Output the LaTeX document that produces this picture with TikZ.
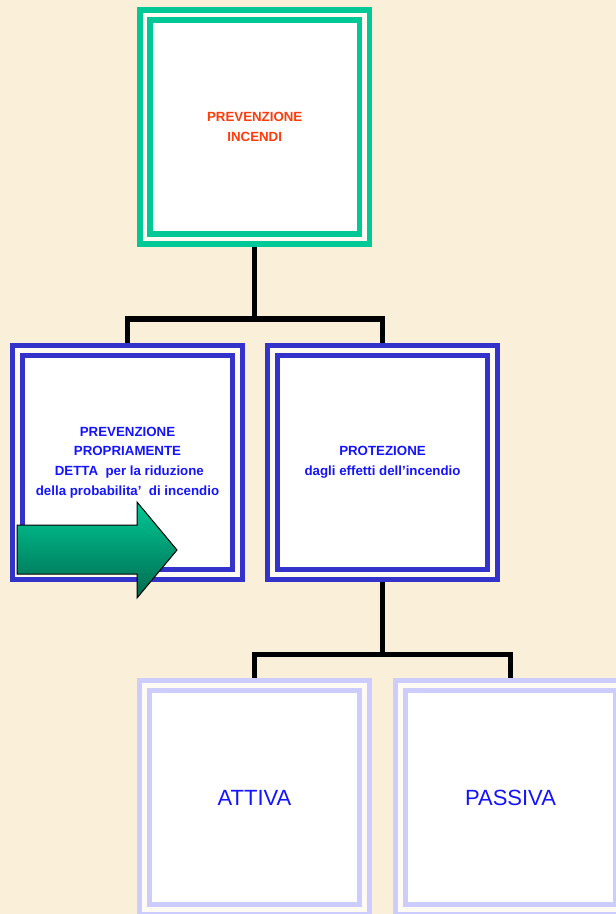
\documentclass[tikz,border=0pt]{standalone}
\usepackage{fontspec}
\setmainfont{Liberation Sans}
\definecolor{paper}{HTML}{FAF0D9}
\definecolor{gapcol}{HTML}{FFFBF2}
\definecolor{greenborder}{HTML}{00C896}
\definecolor{blueborder}{HTML}{3333CC}
\definecolor{lavborder}{HTML}{CCCCFF}
\definecolor{redtext}{HTML}{FF3C0A}
\definecolor{bluetext}{HTML}{1414FF}
\definecolor{arrowtop}{HTML}{00C896}
\definecolor{arrowbot}{HTML}{006A4E}
\pgfdeclarelayer{paperlayer}
\pgfdeclarelayer{linelayer}
\pgfsetlayers{paperlayer,linelayer,main}
\tikzset{
  framebox/.style={rectangle, fill=white, line width=5.3pt, double=gapcol,
    double distance=4.6pt, minimum width=219.5pt, minimum height=224pt,
    inner sep=0pt, align=center},
  greenbox/.style={framebox, draw=greenborder, text=redtext,
    font=\bfseries\fontsize{13.3}{20}\selectfont},
  bluebox/.style={framebox, draw=blueborder, text=bluetext,
    font=\bfseries\fontsize{13.3}{19.7}\selectfont},
  lavbox/.style={framebox, draw=lavborder, text=bluetext,
    font=\fontsize{22}{26}\selectfont},
  connector/.style={line width=5.5pt, draw=black, line join=miter}
}
\begin{document}
\begin{tikzpicture}[x=1pt,y=-1pt]
\useasboundingbox (0,0) rectangle (616,914);
\begin{pgfonlayer}{paperlayer}
\fill[paper] (0,0) rectangle (616,914);
\end{pgfonlayer}
\clip (0,0) rectangle (616,914);

\node[greenbox] (top) at (254.7,127) {PREVENZIONE\\INCENDI};
\node[bluebox] (ml) at (127.5,462.5) {PREVENZIONE\\PROPRIAMENTE\\\ DETTA~ per la riduzione\\della probabilita’~ di incendio};
\node[bluebox] (mr) at (382.5,462.5) {PROTEZIONE\\dagli effetti dell’incendio};
\node[lavbox] (bl) at (254.5,797.5) {ATTIVA};
\node[lavbox] (br) at (510.5,797.5) {PASSIVA};

\coordinate (j1) at (254.7,319);
\coordinate (j2) at (382.5,654.5);

\begin{pgfonlayer}{linelayer}
\draw[connector] (top.center) -- (j1);
\draw[connector] (ml.center) |- (j1) -| (mr.center);
\draw[connector] (mr.center) -- (j2);
\draw[connector] (bl.center) |- (j2) -| (br.center);
\end{pgfonlayer}

\shadedraw[top color=arrowtop, bottom color=arrowbot, draw=black, line width=1pt, line join=miter]
  (17,525) -- (137,525) -- (137,502) -- (177,550) -- (137,598) -- (137,574) -- (17,574) -- cycle;
\end{tikzpicture}
\end{document}
